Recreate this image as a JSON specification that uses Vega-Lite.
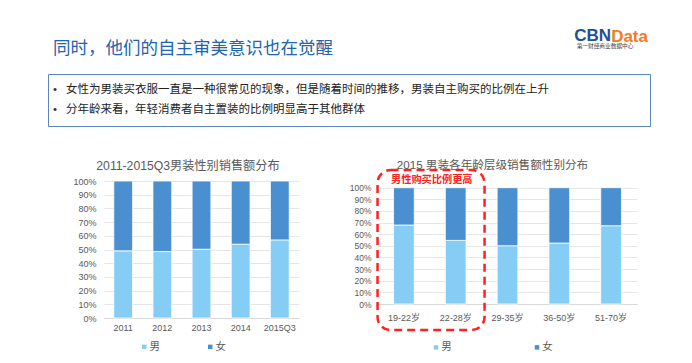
{
  "$schema": "https://vega.github.io/schema/vega-lite/v6.json",
  "background": "white",
  "padding": {"left": 47, "top": 27, "right": 0, "bottom": 0},
  "config": {
    "font": "Liberation Sans, Noto Sans CJK SC",
    "view": {"stroke": null},
    "axis": {"labelFont": "Liberation Sans, Noto Sans CJK SC", "labelColor": "#595959"},
    "legend": {"labelFont": "Noto Sans CJK SC", "labelColor": "#595959"},
    "title": {"font": "Liberation Sans, Noto Sans CJK SC"}
  },
  "title": {"text": "CBN", "anchor": "end", "fontSize": 17, "fontWeight": "bold", "color": "#1e4e9c", "font": "Liberation Sans", "dx": -39.5, "dy": 17, "offset": 0},
  "vconcat": [
    {
      "title": {"text": "Data", "anchor": "end", "fontSize": 17, "fontWeight": "bold", "color": "#f47b20", "font": "Liberation Sans", "dx": -2.5, "dy": 7, "offset": 0},
      "vconcat": [
        {
          "title": {"text": "第一财经商业数据中心", "anchor": "end", "fontSize": 5.7, "fontWeight": "normal", "color": "#444444", "font": "Noto Sans CJK SC", "dx": -17, "dy": 10, "offset": 0},
          "spacing": 32,
          "vconcat": [
            {
              "width": 602,
              "height": 52,
              "view": {"stroke": "#5b86c0", "strokeWidth": 1},
              "title": {"text": "同时，他们的自主审美意识也在觉醒", "anchor": "start", "fontSize": 17.5, "fontWeight": "normal", "color": "#2164b0", "font": "Noto Sans CJK SC", "dx": 5, "offset": 17},
              "data": {"values": [
                {"line": 1, "text": "女性为男装买衣服一直是一种很常见的现象，但是随着时间的推移，男装自主购买的比例在上升"},
                {"line": 2, "text": "分年龄来看，年轻消费者自主置装的比例明显高于其他群体"}
              ]},
              "encoding": {
                "y": {"field": "line", "type": "ordinal", "axis": null, "scale": {"type": "point", "padding": 0.78}},
                "x": {"datum": 0, "type": "quantitative", "axis": null, "scale": {"domain": [0, 1], "nice": false}}
              },
              "layer": [
                {"mark": {"type": "text", "align": "left", "baseline": "middle", "dx": 5, "fontSize": 11.5, "color": "#333333"}, "encoding": {"text": {"value": "•"}}},
                {"mark": {"type": "text", "align": "left", "baseline": "middle", "dx": 18, "fontSize": 11.5, "color": "#222222", "font": "Noto Sans CJK SC"}, "encoding": {"text": {"field": "text"}}}
              ]
            },
            {
              "spacing": 49,
              "resolve": {"scale": {"color": "independent"}},
              "hconcat": [
                {
                  "width": 251,
                  "height": 137,
                  "title": {"text": "2011-2015Q3男装性别销售额分布", "fontSize": 12.2, "fontWeight": "normal", "color": "#595959", "anchor": "middle", "frame": "group", "dx": 14.5, "offset": 5},
                  "data": {"values": [
                    {"year": "2011", "gender": "男", "share": 49.0},
                    {"year": "2011", "gender": "女", "share": 51.0},
                    {"year": "2012", "gender": "男", "share": 48.5},
                    {"year": "2012", "gender": "女", "share": 51.5},
                    {"year": "2013", "gender": "男", "share": 50.2},
                    {"year": "2013", "gender": "女", "share": 49.8},
                    {"year": "2014", "gender": "男", "share": 53.9},
                    {"year": "2014", "gender": "女", "share": 46.1},
                    {"year": "2015Q3", "gender": "男", "share": 57.0},
                    {"year": "2015Q3", "gender": "女", "share": 43.0}
                  ]},
                  "mark": {"type": "bar", "stroke": "white", "strokeWidth": 0.8},
                  "encoding": {
                    "x": {"field": "year", "type": "nominal", "scale": {"range": [56, 251], "paddingInner": 0.52, "paddingOuter": 0.25}, "axis": {"title": null, "labelAngle": 0, "labelFontSize": 9, "labelPadding": 5, "ticks": false, "domainColor": "#d9d9d9"}},
                    "y": {"field": "share", "type": "quantitative", "stack": "normalize", "scale": {"domain": [0, 1], "nice": false}, "axis": {"title": null, "format": ".0%", "values": [0, 0.1, 0.2, 0.3, 0.4, 0.5, 0.6, 0.7, 0.8, 0.9, 1], "offset": -56, "labelFontSize": 9, "labelPadding": 8, "labelOverlap": false, "ticks": false, "domain": false, "gridColor": "#e6e6e6"}},
                    "color": {"field": "gender", "type": "nominal", "scale": {"domain": ["男", "女"], "range": ["#86cdf5", "#4a8fd0"]}, "legend": {"orient": "none", "legendX": 91, "legendY": 160.5, "direction": "horizontal", "title": null, "symbolType": "square", "symbolSize": 20, "symbolStrokeWidth": 0, "labelFontSize": 10.5, "labelOffset": 0, "columnPadding": 45}},
                    "order": {"field": "gender", "sort": "descending"}
                  }
                },
                {
                  "width": 259,
                  "height": 123,
                  "title": {"text": "2015 男装各年龄层级销售额性别分布", "fontSize": 11.6, "fontWeight": "normal", "color": "#595959", "anchor": "middle", "frame": "group", "dx": -15, "offset": -3},
                  "layer": [
                    {
                      "data": {"values": [
                        {"age": "19-22岁", "gender": "男", "share": 67.9},
                        {"age": "19-22岁", "gender": "女", "share": 32.1},
                        {"age": "22-28岁", "gender": "男", "share": 54.7},
                        {"age": "22-28岁", "gender": "女", "share": 45.3},
                        {"age": "29-35岁", "gender": "男", "share": 50.1},
                        {"age": "29-35岁", "gender": "女", "share": 49.9},
                        {"age": "36-50岁", "gender": "男", "share": 52.4},
                        {"age": "36-50岁", "gender": "女", "share": 47.6},
                        {"age": "51-70岁", "gender": "男", "share": 67.3},
                        {"age": "51-70岁", "gender": "女", "share": 32.7}
                      ]},
                      "mark": {"type": "bar", "stroke": "white", "strokeWidth": 0.8},
                      "encoding": {
                        "x": {"field": "age", "type": "nominal", "scale": {"paddingInner": 0.6, "paddingOuter": 0.3}, "axis": {"title": null, "labelAngle": 0, "labelFontSize": 9, "labelPadding": 9, "ticks": false, "domainColor": "#d9d9d9"}},
                        "y": {"field": "share", "type": "quantitative", "stack": "normalize", "scale": {"domain": [0, 1], "nice": false, "range": [123, 6.7]}, "axis": {"title": null, "format": ".0%", "values": [0, 0.1, 0.2, 0.3, 0.4, 0.5, 0.6, 0.7, 0.8, 0.9, 1], "labelFontSize": 8.5, "labelPadding": 7, "labelOverlap": false, "ticks": false, "domain": false, "gridColor": "#e6e6e6", "minExtent": 30}},
                        "color": {"field": "gender", "type": "nominal", "scale": {"domain": ["男", "女"], "range": ["#86cdf5", "#4a8fd0"]}, "legend": {"orient": "none", "legendX": 52.75, "legendY": 161, "direction": "horizontal", "title": null, "symbolType": "square", "symbolSize": 20, "symbolStrokeWidth": 0, "labelFontSize": 10.5, "labelOffset": 0, "columnPadding": 80}},
                        "order": {"field": "gender", "sort": "descending"}
                      }
                    },
                    {
                      "data": {"values": [{"from": "19-22岁", "to": "22-28岁", "label": "男性购买比例更高"}]},
                      "mark": {"type": "rect", "filled": false, "stroke": "#ff2020", "strokeWidth": 2.5, "strokeDash": [8, 5], "cornerRadius": 13, "xOffset": -16, "x2Offset": 18.5},
                      "encoding": {
                        "x": {"field": "from", "type": "nominal", "bandPosition": 0, "axis": {"title": null, "labelAngle": 0, "labelFontSize": 9, "labelPadding": 9, "ticks": false, "domainColor": "#d9d9d9"}},
                        "x2": {"field": "to", "bandPosition": 1},
                        "y": {"datum": 1.152, "type": "quantitative", "scale": {"domain": [0, 1], "nice": false, "range": [123, 6.7]}, "axis": {"title": null, "format": ".0%", "values": [0, 0.1, 0.2, 0.3, 0.4, 0.5, 0.6, 0.7, 0.8, 0.9, 1], "labelFontSize": 8.5, "labelPadding": 7, "labelOverlap": false, "ticks": false, "domain": false, "gridColor": "#e6e6e6", "minExtent": 30}},
                        "y2": {"datum": -0.224}
                      }
                    },
                    {
                      "data": {"values": [{"from": "19-22岁", "to": "22-28岁", "label": "男性购买比例更高"}]},
                      "mark": {"type": "text", "color": "#ff2020", "fontWeight": "bold", "fontSize": 10.2, "font": "Noto Sans CJK SC", "dx": 17.5, "align": "center", "baseline": "middle"},
                      "encoding": {
                        "x": {"field": "from", "type": "nominal", "bandPosition": 1, "axis": {"title": null, "labelAngle": 0, "labelFontSize": 9, "labelPadding": 9, "ticks": false, "domainColor": "#d9d9d9"}},
                        "y": {"datum": 1.07, "type": "quantitative", "scale": {"domain": [0, 1], "nice": false, "range": [123, 6.7]}, "axis": {"title": null, "format": ".0%", "values": [0, 0.1, 0.2, 0.3, 0.4, 0.5, 0.6, 0.7, 0.8, 0.9, 1], "labelFontSize": 8.5, "labelPadding": 7, "labelOverlap": false, "ticks": false, "domain": false, "gridColor": "#e6e6e6", "minExtent": 30}},
                        "text": {"field": "label"}
                      }
                    }
                  ]
                }
              ]
            }
          ]
        }
      ]
    }
  ]
}
